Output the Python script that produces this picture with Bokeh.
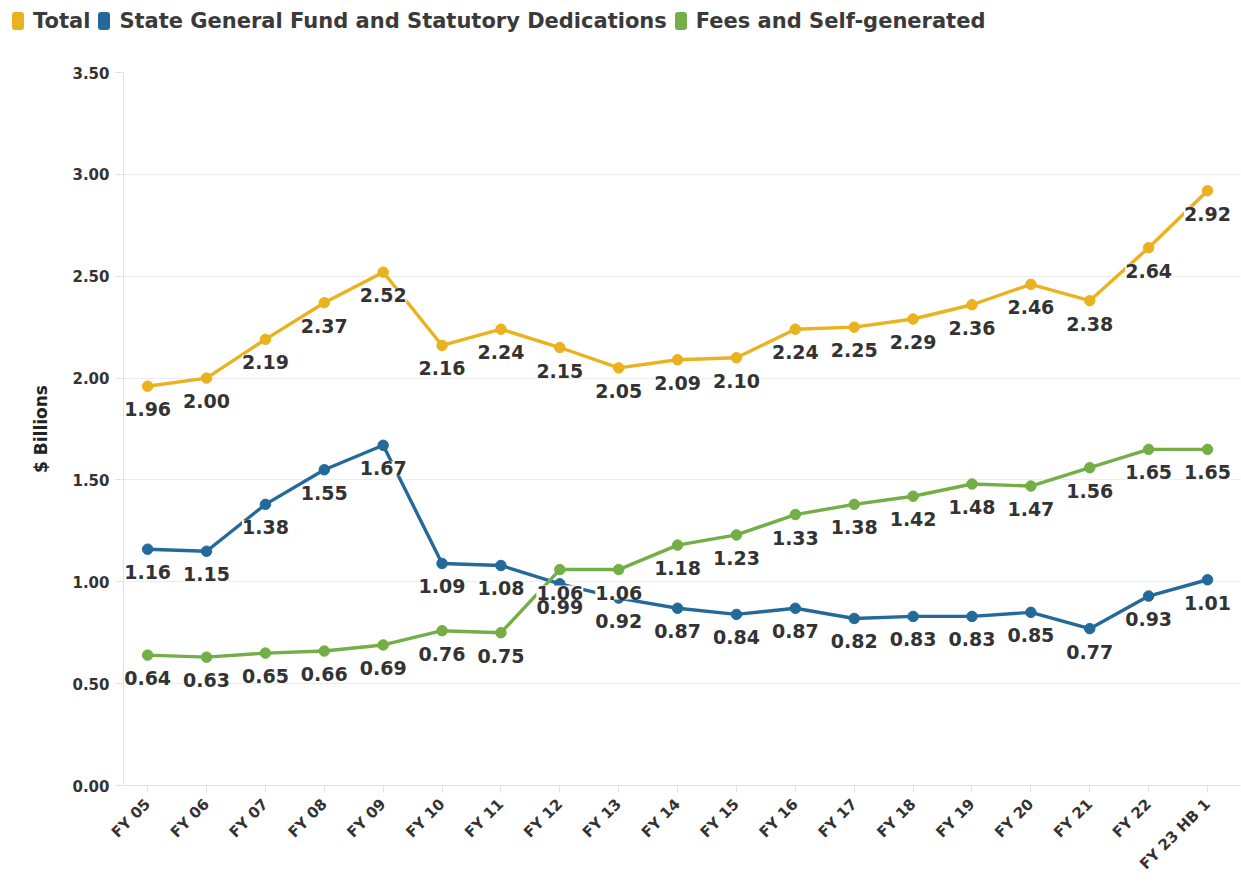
from bokeh.plotting import figure
from bokeh.layouts import column
from bokeh.models import (ColumnDataSource, Range1d, FixedTicker, Div,
                          NumeralTickFormatter)
from bokeh.core.properties import value
from bokeh.embed import file_html
from bokeh.resources import INLINE
import math

categories = ["FY 05", "FY 06", "FY 07", "FY 08", "FY 09", "FY 10", "FY 11", "FY 12",
              "FY 13", "FY 14", "FY 15", "FY 16", "FY 17", "FY 18", "FY 19", "FY 20",
              "FY 21", "FY 22", "FY 23 HB 1"]
total = [1.96, 2.00, 2.19, 2.37, 2.52, 2.16, 2.24, 2.15, 2.05, 2.09, 2.10, 2.24, 2.25,
         2.29, 2.36, 2.46, 2.38, 2.64, 2.92]
state_gf = [1.16, 1.15, 1.38, 1.55, 1.67, 1.09, 1.08, 0.99, 0.92, 0.87, 0.84, 0.87, 0.82,
            0.83, 0.83, 0.85, 0.77, 0.93, 1.01]
fees = [0.64, 0.63, 0.65, 0.66, 0.69, 0.76, 0.75, 1.06, 1.06, 1.18, 1.23, 1.33, 1.38,
        1.42, 1.48, 1.47, 1.56, 1.65, 1.65]
series_names = ["Total", "State General Fund and Statutory Dedications", "Fees and Self-generated"]
y_ticks = [0.0, 0.5, 1.0, 1.5, 2.0, 2.5, 3.0, 3.5]

colors = ["#E9B21E", "#236A9B", "#74AE46"]
FONT = "DejaVu Sans"
TXT = "#333333"

xs = list(range(len(categories)))

LEG_H = 40

p = figure(width=1241, height=882 - LEG_H, output_backend="svg", toolbar_location=None,
           x_range=Range1d(-0.41, len(categories) - 1 + 0.56),
           y_range=Range1d(0, 3.5),
           min_border_left=123, min_border_right=1, min_border_top=72 - LEG_H,
           min_border_bottom=97, margin=(0, 0, 0, 0))
p.outline_line_color = None
p.background_fill_color = "white"

# axes
p.xaxis.ticker = FixedTicker(ticks=xs)
p.xaxis.major_label_overrides = {i: c for i, c in enumerate(categories)}
p.xaxis.major_label_orientation = math.pi / 4
p.xaxis.major_label_text_font = FONT
p.xaxis.major_label_text_font_style = "bold"
p.xaxis.major_label_text_font_size = "15px"
p.xaxis.major_label_text_color = TXT
p.xaxis.axis_line_color = "#e3e3e3"
p.xaxis.major_tick_line_color = "#e3e3e3"
p.xaxis.major_tick_out = 7
p.xaxis.major_tick_in = 0
p.xaxis.minor_tick_line_color = None
p.xaxis.major_label_standoff = 9

p.yaxis.ticker = FixedTicker(ticks=y_ticks)
p.yaxis.formatter = NumeralTickFormatter(format="0.00")
p.yaxis.major_label_text_font = FONT
p.yaxis.major_label_text_font_style = "bold"
p.yaxis.major_label_text_font_size = "15px"
p.yaxis.major_label_text_color = TXT
p.yaxis.axis_line_color = "#e3e3e3"
p.yaxis.major_tick_line_color = "#e3e3e3"
p.yaxis.major_tick_out = 8
p.yaxis.major_tick_in = 0
p.yaxis.minor_tick_line_color = None
p.yaxis.major_label_standoff = 6
p.yaxis.axis_label = "$ Billions"
p.yaxis.axis_label_text_font = FONT
p.yaxis.axis_label_text_font_style = "bold"
p.yaxis.axis_label_text_font_size = "17px"
p.yaxis.axis_label_text_color = "#222222"
p.yaxis.axis_label_standoff = 18

p.xgrid.grid_line_color = None
p.ygrid.grid_line_color = "#ececec"
p.ygrid.ticker = FixedTicker(ticks=y_ticks)

all_series = [total, state_gf, fees]
sources = []
for vals, col in zip(all_series, colors):
    src = ColumnDataSource(dict(x=xs, y=vals, lab=["%.2f" % v for v in vals]))
    sources.append(src)
    p.line("x", "y", source=src, line_color=col, line_width=3.4)
    p.scatter("x", "y", source=src, size=10.5, fill_color=col, line_color=col)

for src in sources:
    p.text("x", "y", text="lab", source=src, text_align="center", text_baseline="middle",
           y_offset=23, text_font=value(FONT), text_font_style="bold",
           text_font_size="19px", text_color=TXT,
           background_fill_color="white", background_fill_alpha=1.0)

# legend strip (HTML text)
parts = []
for name, col in zip(series_names, colors):
    parts.append(
        '<span style="display:inline-flex;align-items:center;margin-right:8px;">'
        '<span style="display:block;flex:none;width:12px;min-width:12px;height:18px;'
        'min-height:18px;border-radius:3px;background:%s;margin-right:9px;"></span>'
        '<span>%s</span></span>' % (col, name))
html = ('<div style="font-family:\'DejaVu Sans\';font-weight:bold;font-size:21px;'
        'color:#3a3a3a;white-space:nowrap;padding:9px 0 0 12px;line-height:24px;'
        'display:flex;align-items:center;">%s</div>' % "".join(parts))
legend_div = Div(text=html, width=1241, height=LEG_H, margin=(0, 0, 0, 0))

layout = column(legend_div, p, spacing=0)
open("out.html", "w").write(file_html(layout, INLINE))
